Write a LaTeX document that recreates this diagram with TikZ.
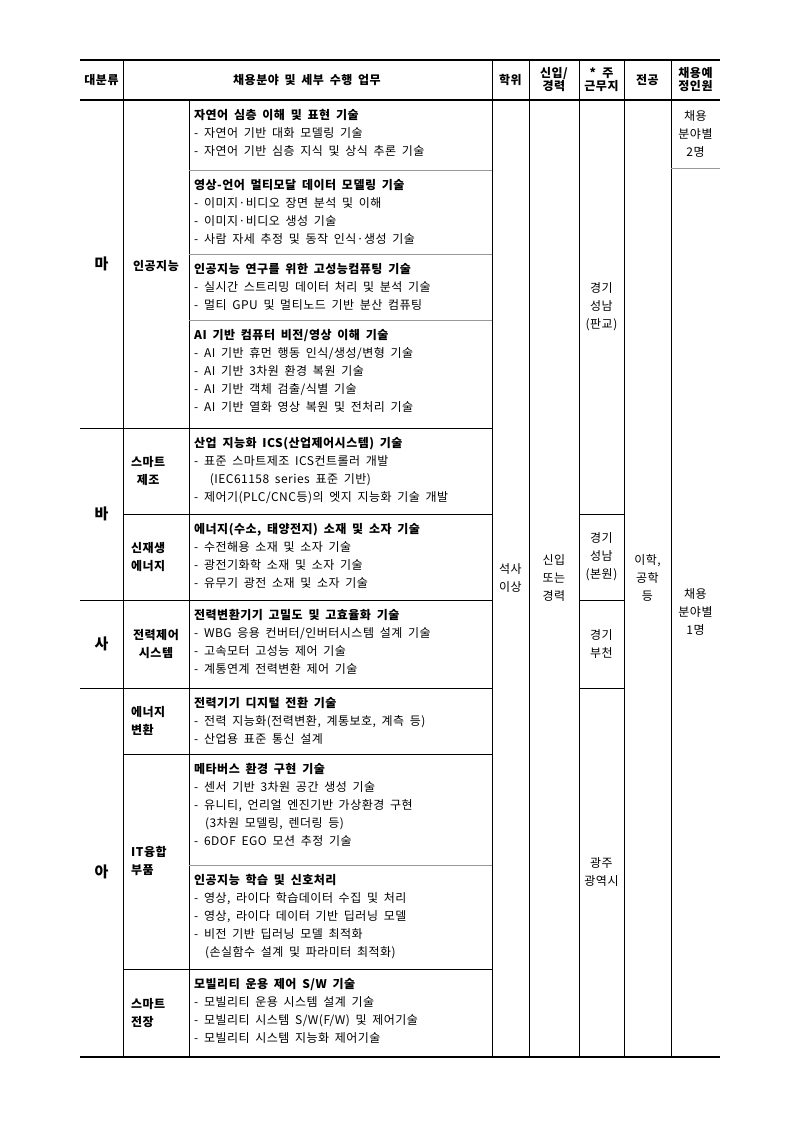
\documentclass[tikz,border=0pt]{standalone}
\usepackage{fontspec}
\setmainfont{Noto Sans CJK KR}[WordSpace=1.8,LetterSpace=4]
\begin{document}
\begin{tikzpicture}[x=1pt,y=-1pt,
    txt/.style={inner sep=0pt,font=\fontsize{12}{18}\selectfont},
    task/.style={txt,anchor=north west,align=left},
    mid/.style={txt,align=center},
    big/.style={inner sep=0pt,font=\fontsize{15}{18}\selectfont\bfseries},
    sep/.style={gray!80,line width=1pt},
    rule/.style={black,line width=0.8pt}]
  \useasboundingbox (0,0) rectangle (793,1121);
  \newcommand{\job}[4]{\node[task] (#1) at (194,#2+9) {\textbf{#3}\\#4};}
  % header
  \draw[rule,line width=1.2pt] (80,60) -- (720,60);
  \draw[rule,line width=1.2pt] (80,100) -- (720,100);
  \draw[rule,line width=1.2pt] (80,1057) -- (720,1057);
  \foreach \x in {123,492,529,579,624,671} \draw[rule] (\x,60) -- (\x,1057);
  \draw[rule] (189,100) -- (189,1057);
  \node[txt,font=\fontsize{12}{13}\selectfont\bfseries] (h1) at (101.5,80) {대분류};
  \node[txt,font=\fontsize{12}{13}\selectfont\bfseries] (h2) at (307,80) {채용분야 및 세부 수행 업무};
  \node[mid,font=\fontsize{12}{13}\selectfont\bfseries] (h3) at (510.5,80) {학위};
  \node[mid,font=\fontsize{12}{13}\selectfont\bfseries] (h4) at (554,80) {신입/\\경력};
  \node[mid,font=\fontsize{12}{13}\selectfont\bfseries] (h5) at (601.5,80) {\textbf{*} 주\\근무지};
  \node[mid,font=\fontsize{12}{13}\selectfont\bfseries] (h6) at (647.5,80) {전공};
  \node[mid,font=\fontsize{12}{13}\selectfont\bfseries] (h7) at (695.5,80) {채용예\\정인원};
  % row separators
  \foreach \y in {170,254,320} \draw[sep] (189,\y) -- (492,\y);
  \foreach \y in {428,600,688} \draw[rule] (80,\y) -- (492,\y);
  \foreach \y in {514,754,969} \draw[rule] (123,\y) -- (492,\y);
  \draw[sep] (189,865) -- (492,865);
  \foreach \y in {514,600,688} \draw[rule] (579,\y) -- (624,\y);
  \draw[sep] (671,168) -- (720,168);
  % major groups
  \node[big] (ma) at (101.5,264) {마};
  \node[big] (ba) at (101.5,514) {바};
  \node[big] (sa) at (101.5,644) {사};
  \node[big] (a) at (101.5,872) {아};
  \node[mid,font=\fontsize{12}{18}\selectfont\bfseries] (ai) at (156,266) {인공지능};
  \node[mid,font=\fontsize{12}{18}\selectfont\bfseries,anchor=west] (smf) at (131,471) {스마트\\제조};
  \node[mid,font=\fontsize{12}{18}\selectfont\bfseries,anchor=west] (ren) at (131,557) {신재생\\에너지};
  \node[mid,font=\fontsize{12}{18}\selectfont\bfseries] (pcs) at (156,644) {전력제어\\시스템};
  \node[task,font=\fontsize{12}{18}\selectfont\bfseries,anchor=west] (ect) at (131,721) {에너지\\변환};
  \node[task,font=\fontsize{12}{18}\selectfont\bfseries,anchor=west] (itc) at (131,861) {IT융합\\부품};
  \node[task,font=\fontsize{12}{18}\selectfont\bfseries,anchor=west] (sel) at (131,1013) {스마트\\전장};
  % tasks
  \job{t1}{100}{자연어 심층 이해 및 표현 기술}{- 자연어 기반 대화 모델링 기술\\- 자연어 기반 심층 지식 및 상식 추론 기술}
  \job{t2}{170}{영상-언어 멀티모달 데이터 모델링 기술}{- 이미지·비디오 장면 분석 및 이해\\- 이미지·비디오 생성 기술\\- 사람 자세 추정 및 동작 인식·생성 기술}
  \job{t3}{254}{인공지능 연구를 위한 고성능컴퓨팅 기술}{- 실시간 스트리밍 데이터 처리 및 분석 기술\\- 멀티 GPU 및 멀티노드 기반 분산 컴퓨팅}
  \job{t4}{320}{AI 기반 컴퓨터 비전/영상 이해 기술}{- AI 기반 휴먼 행동 인식/생성/변형 기술\\- AI 기반 3차원 환경 복원 기술\\- AI 기반 객체 검출/식별 기술\\- AI 기반 열화 영상 복원 및 전처리 기술}
  \job{t5}{428}{산업 지능화 ICS(산업제어시스템) 기술}{- 표준 스마트제조 ICS컨트롤러 개발\\\hspace*{1.3em}(IEC61158 series 표준 기반)\\- 제어기(PLC/CNC등)의 엣지 지능화 기술 개발}
  \job{t6}{514}{에너지(수소, 태양전지) 소재 및 소자 기술}{- 수전해용 소재 및 소자 기술\\- 광전기화학 소재 및 소자 기술\\- 유무기 광전 소재 및 소자 기술}
  \job{t7}{600}{전력변환기기 고밀도 및 고효율화 기술}{- WBG 응용 컨버터/인버터시스템 설계 기술\\- 고속모터 고성능 제어 기술\\- 계통연계 전력변환 제어 기술}
  \job{t8}{688}{전력기기 디지털 전환 기술}{- 전력 지능화(전력변환, 계통보호, 계측 등)\\- 산업용 표준 통신 설계}
  \job{t9}{754}{메타버스 환경 구현 기술}{- 센서 기반 3차원 공간 생성 기술\\- 유니티, 언리얼 엔진기반 가상환경 구현\\\hspace*{0.9em}(3차원 모델링, 렌더링 등)\\- 6DOF EGO 모션 추정 기술}
  \job{t10}{865}{인공지능 학습 및 신호처리}{- 영상, 라이다 학습데이터 수집 및 처리\\- 영상, 라이다 데이터 기반 딥러닝 모델\\- 비전 기반 딥러닝 모델 최적화\\\hspace*{0.9em}(손실함수 설계 및 파라미터 최적화)}
  \job{t11}{969}{모빌리티 운용 제어 S/W 기술}{- 모빌리티 운용 시스템 설계 기술\\- 모빌리티 시스템 S/W(F/W) 및 제어기술\\- 모빌리티 시스템 지능화 제어기술}
  % spanning columns
  \node[mid] (deg) at (510.5,578) {석사\\이상};
  \node[mid] (car) at (554,578) {신입\\또는\\경력};
  \node[mid] (pg) at (601.5,307) {경기\\성남\\(판교)};
  \node[mid] (hq) at (601.5,557) {경기\\성남\\(본원)};
  \node[mid] (bc) at (601.5,644) {경기\\부천};
  \node[mid] (gj) at (601.5,872) {광주\\광역시};
  \node[mid] (maj) at (647.5,578) {이학,\\공학\\등};
  \node[mid] (n2) at (695.5,134) {채용\\분야별\\2명};
  \node[mid] (n1) at (695.5,612) {채용\\분야별\\1명};
\end{tikzpicture}
\end{document}
